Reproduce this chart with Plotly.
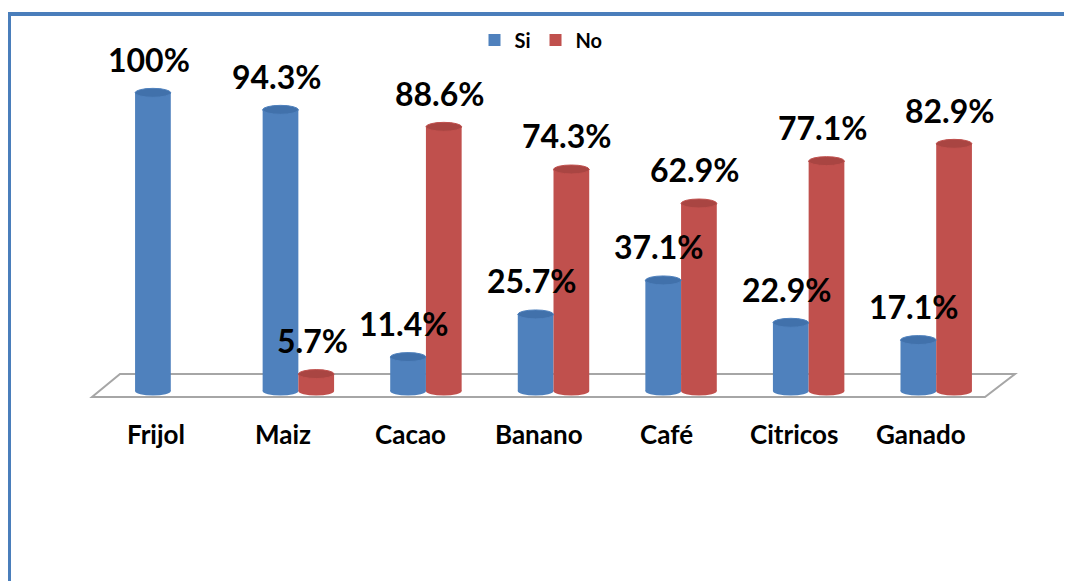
import plotly.graph_objects as go

categories = ["Frijol", "Maiz", "Cacao", "Banano", "Café", "Citricos", "Ganado"]
si_values = [100, 94.3, 11.4, 25.7, 37.1, 22.9, 17.1]
no_values = [None, 5.7, 88.6, 74.3, 62.9, 77.1, 82.9]
si_labels = ["100%", "94.3%", "11.4%", "25.7%", "37.1%", "22.9%", "17.1%"]
no_labels = ["", "5.7%", "88.6%", "74.3%", "62.9%", "77.1%", "82.9%"]

FONT = "Lato, 'Open Sans', sans-serif"
BLUE = "#4F81BD"
BLUE_TOP = "#4171AB"
RED = "#C0504D"
RED_TOP = "#A94542"

fig = go.Figure()
fig.add_trace(go.Bar(
    name="Si", x=categories, y=si_values,
    marker=dict(color=BLUE, line=dict(width=0)),
))
fig.add_trace(go.Bar(
    name="No", x=categories, y=no_values,
    marker=dict(color=RED, line=dict(width=0)),
))

# page is offset by 8px body margin
OFF = 8
W, H = 1072, 581
YMIN, YMAX = -4, 110
L, T = 107 - OFF, 63 - OFF
pw, ph = 893, 340
R, B = W - L - pw, H - T - ph
BARGAP = 0.44

def px(x):
    return (x - OFF - L) / pw

def py(y):
    return (T + ph - (y - OFF)) / ph

bar_px = pw / len(categories) * (1 - BARGAP) / 2
bar_w = (1 - BARGAP) / 2  # bar width in category units
cap = 1.5  # half-height of cylinder caps in data units

annotations = []
shapes = [
    # floor
    dict(type="path", xref="paper", yref="paper", layer="below",
         path=f"M {px(120)} {py(374)} L {px(1015)} {py(374)} L {px(985)} {py(397)} L {px(92)} {py(397)} Z",
         line=dict(color="#A6A6A6", width=2), fillcolor="white"),
]

for series, labels, sign, body, top in ((si_values, si_labels, -1, BLUE, BLUE_TOP),
                                        (no_values, no_labels, 1, RED, RED_TOP)):
    for i, (cat, v, t) in enumerate(zip(categories, series, labels)):
        if v is None:
            continue
        c = i + sign * bar_w / 2
        shapes.append(dict(type="circle", xref="x", yref="y", layer="below",
                           x0=c - bar_w / 2, x1=c + bar_w / 2, y0=-cap, y1=cap,
                           fillcolor=body, line=dict(width=0)))
        shapes.append(dict(type="circle", xref="x", yref="y", layer="above",
                           x0=c - bar_w / 2, x1=c + bar_w / 2, y0=v - cap, y1=v + cap,
                           fillcolor=top, line=dict(color=body, width=1)))
        if t:
            annotations.append(dict(x=cat, y=v, text=t, xshift=sign * bar_px / 2 - 4, yshift=12,
                                    yanchor="bottom", showarrow=False,
                                    font=dict(size=32, color="black", family=FONT, weight="bold")))

for cat in categories:
    annotations.append(dict(x=cat, xref="x", yref="paper", y=py(434), yanchor="middle",
                            xshift=-15, text=cat, showarrow=False,
                            font=dict(size=26, color="black", family=FONT, weight="bold")))

# frame
shapes += [
    dict(type="line", xref="paper", yref="paper", x0=px(7), x1=px(1090), y0=py(14), y1=py(14),
         line=dict(color="#4A7EBB", width=4)),
    dict(type="line", xref="paper", yref="paper", x0=px(9), x1=px(9), y0=py(12), y1=py(600),
         line=dict(color="#4A7EBB", width=4)),
]

fig.update_layout(
    width=W, height=H,
    margin=dict(l=L, r=R, t=T, b=B),
    paper_bgcolor="white", plot_bgcolor="rgba(0,0,0,0)",
    barmode="group", bargap=BARGAP, bargroupgap=0.0,
    showlegend=True,
    legend=dict(orientation="h", x=px(541), xanchor="center", y=py(40), yanchor="middle",
                font=dict(size=20, color="black", family=FONT, weight="bold"),
                itemwidth=30, traceorder="normal"),
    xaxis=dict(showgrid=False, zeroline=False, showline=False, showticklabels=False,
               range=[-0.5, len(categories) - 0.5]),
    yaxis=dict(range=[YMIN, YMAX], visible=False, showgrid=False, zeroline=False),
    shapes=shapes,
    annotations=annotations,
)

fig.write_html("out.html")
